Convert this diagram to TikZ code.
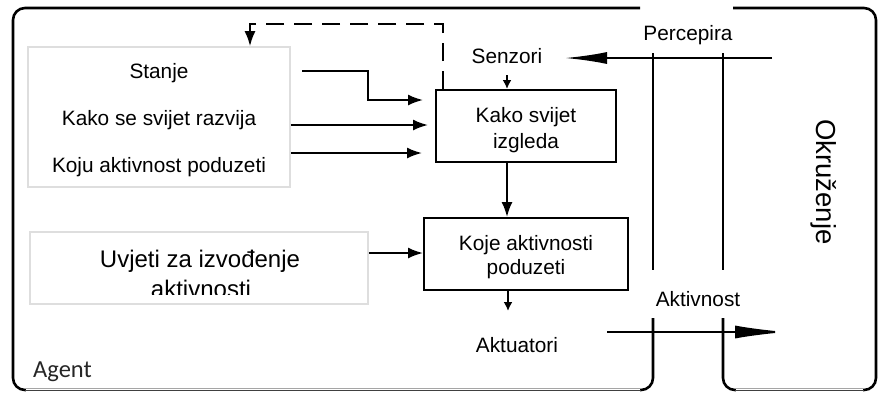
\documentclass[tikz,border=0pt]{standalone}
\usepackage{fontspec}
\setmainfont{Liberation Sans}
\newfontfamily\agentfont{Carlito}
\usetikzlibrary{arrows.meta}
\begin{document}
\begin{tikzpicture}[x=1pt,y=-1pt,
  lbl/.style={font=\fontsize{20.8}{24}\selectfont, inner sep=0pt, anchor=base},
  biglbl/.style={font=\fontsize{24}{28}\selectfont, inner sep=0pt, anchor=base},
  blackbox/.style={draw=black, line width=2pt, fill=white, inner sep=0pt},
  graybox/.style={draw=black!13, line width=1.6pt, inner sep=0pt},
  outline/.style={draw=black, line width=2.6pt, rounded corners=12pt},
  arr/.style={line width=2pt, -{Latex[length=15pt,width=11pt]}},
  smallarr/.style={line width=2pt, -{Latex[length=9pt,width=9pt]}},
  longarr/.style={line width=2pt, -{Latex[length=42pt,width=12pt]}},
  dashline/.style={line width=2pt, dash pattern=on 18pt off 10pt, -{Latex[length=15pt,width=11pt]}}
]
\useasboundingbox (0,0) rectangle (878,392);

% Agent and environment outlines
\draw[outline] (653,318) -- (653,390) -- (13,390) -- (13,8) -- (640,8);
\draw[outline] (723,318) -- (723,390) -- (876,390) -- (876,8) -- (733,8);
% thinner bottom edges
\draw[white, line width=3pt] (26,390) -- (640,390);
\draw[black!75, line width=1.5pt] (25,390.5) -- (641,390.5);
\draw[white, line width=3pt] (736,390) -- (863,390);
\draw[black!75, line width=1.5pt] (735,390.5) -- (864,390.5);

% memory box
\node[graybox, minimum width=262pt, minimum height=140pt] (mem) at (159,117) {};
\node[lbl] (stanje) at (159,78) {Stanje};
\node[lbl] (razvija) at (159,125) {Kako se svijet razvija};
\node[lbl] (poduzeti) at (159,172) {Koju aktivnost poduzeti};

% conditions box
\node[graybox, minimum width=338pt, minimum height=72pt] (uv) at (199,268) {};
\begin{scope}
  \clip (30,232) rectangle (368,294);
  \node[biglbl] (uv1) at (200,267) {Uvjeti za izvođenje};
  \node[biglbl] (uv2) at (201,297) {aktivnosti};
\end{scope}

% processing boxes
\node[blackbox, minimum width=180pt, minimum height=72pt] (kws) at (526,126) {};
\node[lbl] (kws1) at (526,122) {Kako svijet};
\node[lbl] (kws2) at (526,148) {izgleda};
\node[blackbox, minimum width=204pt, minimum height=72pt] (kap) at (526,254) {};
\node[lbl] (kap1) at (526,250) {Koje aktivnosti};
\node[lbl] (kap2) at (526,274) {poduzeti};

% labels
\node[lbl] (sen) at (507,63) {Senzori};
\node[lbl] (akt) at (517,352) {Aktuatori};
\node[lbl] (perc) at (688,40) {Percepira};
\node[lbl, fill=white, inner sep=1pt] (aktiv) at (698,306) {Aktivnost};
\node[font=\fontsize{27.5}{30}\selectfont, inner sep=0pt, rotate=-90] (okr) at (824,182) {Okruženje};
\node[font=\agentfont\fontsize{24.5}{28}\selectfont, text=black!85, inner sep=0pt, anchor=base] (agent) at (62.5,377) {Agent};

% coordinates for free ends
\coordinate (s1) at (302,71);
\coordinate (s1b) at (368,100);
\coordinate (e1) at (423,100);
\coordinate (s2) at (mem.east |- 0,125);
\coordinate (e2) at (428,125);
\coordinate (s3) at (mem.east |- 0,153);
\coordinate (e3) at (422,153);
\coordinate (ua) at (uv.east |- 0,253);
\coordinate (senA) at (507,75);
\coordinate (aktA) at (508,311);
\coordinate (dd) at (443,24);
\coordinate (dl) at (250,24);
\coordinate (pS) at (772,58);
\coordinate (pE) at (565,58);
\coordinate (aS) at (607,332);
\coordinate (aE) at (787,332);

% connectors
\draw[arr] (s1) -| (s1b) -- (e1);
\draw[arr] (s2) -- (e2);
\draw[arr] (s3) -- (e3);
\draw[arr] (ua) -- (ua -| kap.west);
\draw[smallarr] (senA) -- (senA |- kws.north);
\draw[arr] (kws.south -| sen) -- (kap.north -| sen);
\draw[smallarr] (kap.south -| aktA) -- (aktA);
\draw[dashline] (kws.north -| dd) -- (dd) -- (dl) -- (mem.north -| dl);
\draw[longarr] (pS) -- (pE);
\draw[longarr, -{Latex[length=52pt,width=13pt]}] (aS) -- (aE);

% vertical boundary lines (with gap for the action label)
\draw[line width=2.6pt] (653,53) -- (653,270);
\draw[line width=2.6pt] (723,53) -- (723,270);
\draw[line width=2.6pt] (653,318) -- (653,350);
\draw[line width=2.6pt] (723,318) -- (723,350);
\end{tikzpicture}
\end{document}
